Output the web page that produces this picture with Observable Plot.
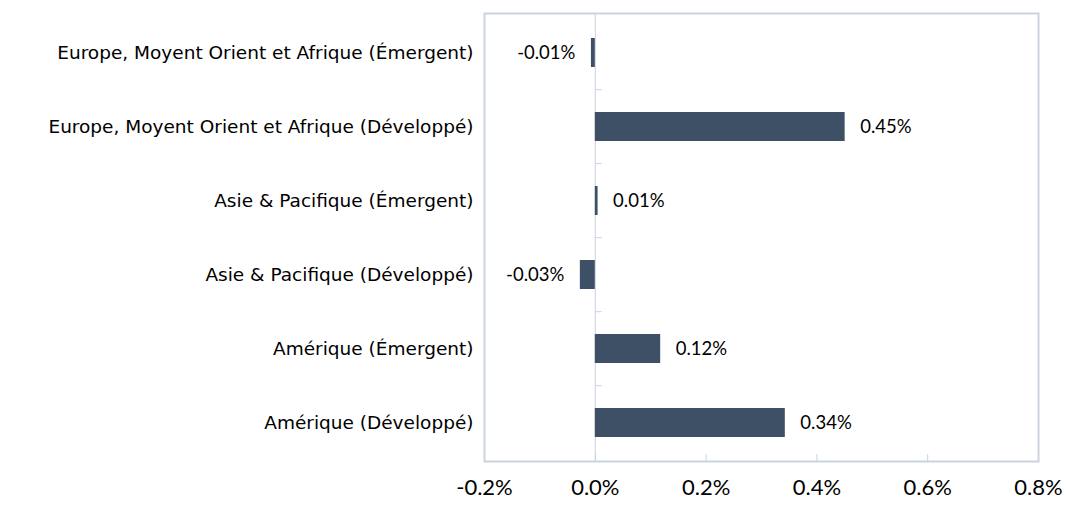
<!DOCTYPE html>
<html>
<head>
<meta charset="utf-8">
<script src="https://cdn.jsdelivr.net/npm/d3@7"></script>
<script src="https://cdn.jsdelivr.net/npm/@observablehq/plot@0.6"></script>
<style>
  html, body { margin: 0; padding: 0; background: #fff; }
  #chart svg { display: block; }
</style>
</head>
<body>
<div id="chart"></div>
<script>
const categories = [
  "Europe, Moyent Orient et Afrique (Émergent)",
  "Europe, Moyent Orient et Afrique (Développé)",
  "Asie & Pacifique (Émergent)",
  "Asie & Pacifique (Développé)",
  "Amérique (Émergent)",
  "Amérique (Développé)"
];
const values = [-0.007, 0.451, 0.005, -0.027, 0.118, 0.343];
const valueLabels = ["-0.01%", "0.45%", "0.01%", "-0.03%", "0.12%", "0.34%"];
const xTicks = [-0.2, 0, 0.2, 0.4, 0.6, 0.8];
const xTickLabels = ["-0.2%", "0.0%", "0.2%", "0.4%", "0.6%", "0.8%"];

const data = categories.map((c, i) => ({cat: c, value: values[i], label: valueLabels[i]}));
const pos = data.filter(d => d.value >= 0);
const neg = data.filter(d => d.value < 0);

const frameColor = "#cbd3de";
const barColor = "#3e5065";

const plot = Plot.plot({
  width: 1067,
  height: 506,
  marginLeft: 484,
  marginRight: 29,
  marginTop: 13,
  marginBottom: 45,
  style: {background: "#fff", overflow: "visible"},
  x: {domain: [-0.2, 0.8], ticks: xTicks, tickFormat: (d) => xTickLabels[xTicks.indexOf(d)], label: null},
  y: {domain: categories, paddingInner: 0.61, paddingOuter: 0.305, label: null},
  marks: [
    Plot.frame({stroke: frameColor, strokeWidth: 2}),
    Plot.ruleX([0], {stroke: frameColor, strokeWidth: 1}),
    Plot.ruleX(xTicks.slice(1, -1), {x: d => d, stroke: frameColor, strokeWidth: 1, insetTop: 441}),
    Plot.ruleY(categories.slice(1), {y: d => d, x1: 0, x2: 0.0126, dy: -37.33, stroke: frameColor, strokeWidth: 1}),
    Plot.barX(data, {y: "cat", x1: 0, x2: "value", fill: barColor}),
    Plot.text(pos, {y: "cat", x: "value", text: "label", textAnchor: "start", dx: 15, fontSize: 18.5, fontFamily: "Lato", fill: "#000"}),
    Plot.text(neg, {y: "cat", x: "value", text: "label", textAnchor: "end", dx: -16, fontSize: 18.5, fontFamily: "Lato", fill: "#000"}),
    Plot.axisY({tickSize: 0, tickPadding: 11, fontSize: 18.5, fontFamily: "DejaVu Sans", fill: "#000"}),
    Plot.axisX({ticks: xTicks, tickFormat: d => xTickLabels[xTicks.indexOf(d)], tickSize: 0, tickPadding: 18, fontSize: 22, fontFamily: "Lato", fill: "#000"})
  ]
});
document.getElementById("chart").appendChild(plot);
</script>
</body>
</html>
